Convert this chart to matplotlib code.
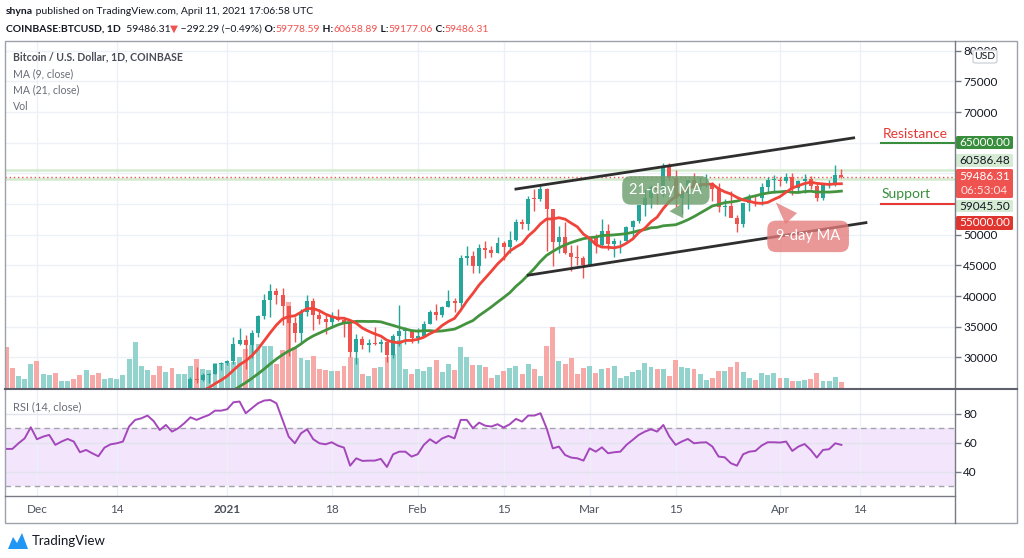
import numpy as np
import pandas as pd
import matplotlib
matplotlib.use('Agg')
import matplotlib.pyplot as plt
import matplotlib.dates as mdates
from matplotlib.lines import Line2D
from matplotlib.patches import Rectangle, FancyBboxPatch, Polygon

plt.rcParams['font.family'] = ['Lato', 'DejaVu Sans']

# ---- data: BTCUSD daily, Coinbase, 2020-11-26 .. 2021-04-11 ----
dates = pd.date_range('2020-11-26', '2021-04-11', freq='D')

opens = [19150, 17150, 17140, 17720, 18180, 19700, 18790, 19220, 19450, 18700,
         19150, 19350, 19190, 18320, 18550, 18260, 18060, 18800, 19140, 19250,
         19420, 21310, 22810, 23140, 23870, 23480, 22750, 23820, 23240, 23730,
         24670, 26440, 26280, 27040, 27360, 28840, 29000, 29380, 32130, 32780,
         31970, 33990, 36820, 39370, 40800, 40250, 38360, 35570, 33920, 37320,
         39190, 36830, 36180, 35790, 36630, 36070, 35550, 30830, 33000, 32070,
         32290, 32250, 32570, 30430, 33470, 34320, 34350, 33110, 33540, 35510,
         37470, 36930, 38140, 39270, 38900, 46200, 46480, 44920, 47910, 47500,
         47100, 48720, 47950, 49200, 52150, 51680, 55890, 55800, 57540, 54210,
         48820, 49710, 47090, 46340, 46190, 45140, 49630, 48380, 50540, 48560,
         48930, 48950, 51210, 52250, 54820, 56010, 57810, 57330, 61240, 59300,
         55910, 56800, 58870, 57860, 58350, 58400, 57520, 54530, 54740, 52770,
         51700, 55140, 55970, 55950, 57750, 58920, 58940, 58800, 59380, 57600,
         58760, 59060, 58020, 55950, 58080, 58090, 59779]
highs = [19460, 17460, 17900, 18350, 19860, 19920, 19310, 19570, 19520, 19180,
         19420, 19390, 19290, 18640, 18560, 18290, 18950, 19410, 19350, 19570,
         21560, 23770, 23280, 24170, 24300, 24100, 23830, 24100, 23790, 24790,
         26870, 28390, 27410, 27400, 28990, 29300, 29600, 33300, 34800, 33600,
         34450, 36940, 40400, 41950, 41380, 41380, 38360, 36600, 37850, 40100,
         39700, 37950, 36850, 37400, 37850, 36420, 35550, 33830, 33460, 32950,
         34880, 32930, 32570, 33850, 38530, 34880, 34350, 34720, 35900, 37660,
         38700, 38300, 40960, 39700, 46750, 48200, 47300, 48500, 48950, 48150,
         49700, 49000, 50600, 52620, 52500, 56350, 57500, 58350, 57600, 54200,
         51370, 52000, 48400, 48400, 46600, 49800, 50200, 52640, 51770, 49500,
         49200, 51450, 52400, 54900, 57400, 58100, 58050, 61780, 61700, 60600,
         56950, 58950, 60100, 59450, 59900, 58600, 58450, 55850, 57200, 53250,
         55100, 56700, 56550, 58400, 59400, 59800, 59490, 60050, 60000, 58960,
         59900, 59500, 58650, 58150, 58880, 61300, 60659]
lows = [16300, 16500, 16880, 17520, 18180, 18330, 18510, 18940, 18570, 18500,
        18860, 18900, 18200, 17650, 17910, 17580, 18020, 18730, 19000, 19050,
        19300, 21230, 22350, 22770, 23080, 22350, 22360, 22700, 22710, 23440,
        24510, 25820, 26100, 25890, 27340, 27860, 28700, 28950, 32050, 28130,
        29900, 33290, 36300, 36500, 38720, 35280, 30260, 32530, 32380, 36700,
        34400, 35360, 33850, 34720, 35900, 33400, 30070, 28850, 31390, 30900,
        31950, 30830, 29240, 29850, 31920, 32240, 32300, 32300, 33420, 35370,
        36160, 36600, 38140, 37350, 37990, 45000, 43800, 43700, 46250, 46300,
        47050, 45950, 47100, 48950, 50900, 50700, 53900, 55500, 47400, 44900,
        47000, 46900, 44150, 45000, 43000, 45000, 47050, 48100, 47500, 46300,
        47100, 48950, 49300, 51850, 53000, 54300, 55050, 56100, 59000, 54600,
        53300, 54200, 57100, 57200, 57800, 55500, 53700, 53000, 52970, 50400,
        51300, 53950, 54700, 54900, 57000, 56870, 57900, 58450, 56500, 57050,
        56800, 57400, 55500, 55700, 57650, 57900, 59177]
closes = [17150, 17140, 17720, 18180, 19700, 18790, 19220, 19450, 18700, 19150,
          19350, 19190, 18320, 18550, 18260, 18060, 18800, 19140, 19250, 19420,
          21310, 22810, 23140, 23870, 23480, 22750, 23820, 23240, 23730, 24670,
          26440, 26280, 27040, 27360, 28840, 29000, 29380, 32130, 32780, 31970,
          33990, 36820, 39370, 40800, 40250, 38360, 35570, 33920, 37320, 39190,
          36830, 36180, 35790, 36630, 36070, 35550, 30830, 33000, 32070, 32290,
          32250, 32570, 30430, 33470, 34320, 34350, 33110, 33540, 35510, 37470,
          36930, 38140, 39270, 38900, 46200, 46480, 44920, 47910, 47500, 47100,
          48720, 47950, 49200, 52150, 51680, 55890, 55800, 57540, 54210, 48820,
          49710, 47090, 46340, 46190, 45140, 49630, 48380, 50540, 48560, 48930,
          48950, 51210, 52250, 54820, 56010, 57810, 57330, 61240, 59300, 55910,
          56800, 58870, 57860, 58350, 58400, 57520, 54530, 54740, 52770, 51700,
          55140, 55970, 55950, 57750, 58920, 58940, 58800, 59380, 57600, 58760,
          59060, 58020, 55950, 58080, 58090, 59779, 59486.31]
volume_k = [41, 20, 11.7, 8.7, 24, 27, 14, 13, 14.7, 6.7,
            6.7, 8.7, 13, 18, 13, 15, 8.7, 9.7, 8.7, 13,
            28.7, 45.7, 22, 18, 13, 21.7, 16.3, 19.7, 14.3, 14.3,
            22, 28.7, 19, 18, 24.7, 24.7, 25.3, 26.3, 31, 39,
            43, 44, 42, 41.7, 24, 38, 86, 41, 30, 28,
            32, 19, 18, 17, 17, 21.7, 31.5, 30, 14.3, 12,
            19.7, 21, 31, 34, 47.7, 18.7, 14.3, 18.7, 17, 20.7,
            27.7, 16, 23.7, 17.7, 41, 31.3, 22.7, 22.7, 20.7, 10.3,
            13.3, 17, 19.7, 21.7, 14.3, 23.7, 18.7, 12.3, 42, 61,
            26.7, 23.7, 30.3, 14.3, 19.7, 21.7, 15.3, 18.7, 19.7, 21.7,
            10.3, 12.3, 16, 18, 24.7, 20.7, 18.7, 18.7, 12.3, 27.7,
            20.7, 19.7, 18.7, 14.3, 8.3, 10.3, 17, 17, 20.7, 25.7,
            16, 10.3, 8.3, 15.3, 13.3, 15.3, 10.3, 10.3, 7.3, 6.7,
            8.3, 9.3, 15.3, 7.3, 7.3, 11.3, 5.7]
rsi = [55.7, 55.7, 59.6, 63, 70.7, 62.4, 64.2, 65.4, 58.5, 60.8,
       62.6, 60.8, 53.4, 55, 52.7, 50.6, 56.6, 58.9, 59.6, 60.8,
       71.2, 75.8, 76.9, 78.8, 75, 68.8, 72.3, 67.7, 70, 73.5,
       77.6, 75.8, 77.6, 79.2, 82.2, 82.2, 83.2, 88, 88.5, 80.4,
       83.9, 87.3, 89.2, 89.6, 87.3, 75.8, 64.2, 59.6, 66.5, 69.3,
       62.4, 59.6, 58.9, 60.3, 58, 56.6, 44.1, 49.2, 47.4, 47.6,
       47.6, 48.8, 43.2, 52, 53.8, 53.8, 50.4, 52, 58.5, 62.4,
       59.6, 63, 64.7, 63, 75.8, 75.8, 70, 73.9, 71.8, 71.2,
       72.8, 70.5, 72.8, 76.5, 74.6, 78.8, 78.8, 80.4, 70, 56.1,
       57.3, 51.5, 49.7, 49.2, 47.6, 56.1, 53.8, 56.8, 52.7, 53.4,
       53.8, 58.5, 61.9, 65.4, 67.7, 69.3, 67.7, 72.3, 64.2, 58.5,
       60.8, 62.6, 59.6, 60.1, 60.3, 57.3, 50.4, 49.9, 45.8, 44.1,
       52, 53.8, 54.3, 58, 60.3, 60.3, 60.1, 60.8, 54.3, 57.3,
       59.1, 55, 49.7, 55, 55.5, 59.6, 58.5]

# drawn trend channel
channel_upper_dates = ['2021-02-17', '2021-04-13']
channel_upper_prices = [57450, 65800]
channel_lower_dates = ['2021-02-19', '2021-04-15']
channel_lower_prices = [43400, 51970]

resistance = 65000.00
support = 55000.00
day_high_line = 60586.48
day_low_line = 59045.50
last_close = 59486.31
countdown = '06:53:04'
o_val, h_val, l_val, c_val = 59778.59, 60658.89, 59177.06, 59486.31
change, change_pct = -292.29, -0.49

price_ticks = list(range(30000, 80001, 5000))
hidden_ticks = [55000, 60000, 65000]   # covered by the price tags
rsi_ticks = [40, 60, 80]
tick_dates = ['2020-12-01', '2020-12-14', '2021-01-01', '2021-01-18', '2021-02-01',
              '2021-02-15', '2021-03-01', '2021-03-15', '2021-04-01', '2021-04-14']
tick_labels = ['Dec', '14', '2021', '18', 'Feb', '15', 'Mar', '15', 'Apr', '14']

# ---- colours ----
UP, DOWN = '#26a69a', '#ef5350'
UP_VOL, DOWN_VOL = '#92d3cd', '#f7a9a8'
GRID = '#edf0f6'
TXT = '#131722'

W, H = 1024, 558
def fx(x):
    return x / W
def fy(y):
    return 1 - y / H

def dnum(s):
    return mdates.date2num(pd.Timestamp(s).to_pydatetime())

xd = mdates.date2num(dates.to_pydatetime())
o = np.array(opens, float)
c = np.array(closes, float)
up = c >= o
cc = np.where(up, UP, DOWN)
ma9 = pd.Series(closes).rolling(9).mean()
ma21 = pd.Series(closes).rolling(21).mean()

fig = plt.figure(figsize=(10.24, 5.58), dpi=100)
fig.patch.set_facecolor('white')

Lx, Rx = 5, 955
price_rect = [fx(Lx), fy(388), fx(Rx) - fx(Lx), (388 - 41) / H]
rsi_rect = [fx(Lx), fy(496), fx(Rx) - fx(Lx), (496 - 390) / H]

ax_v = fig.add_axes(price_rect)
ax_p = fig.add_axes(price_rect, sharex=ax_v)
ax_p.patch.set_visible(False)
ax_r = fig.add_axes(rsi_rect, sharex=ax_v)

xmin = xd[0] - 0.2
xmax = xd[0] + 154.5
ax_v.set_xlim(xmin, xmax)
ax_p.set_ylim(25000, 81600)
ax_v.set_ylim(0, 347)
ax_r.set_ylim(23.1, 96.5)

for a in (ax_v, ax_p, ax_r):
    for s in a.spines.values():
        s.set_visible(False)

xt = [dnum(d) for d in tick_dates]

# grid under volume
for t in xt:
    ax_v.axvline(t, color=GRID, lw=1, zorder=0)
    ax_r.axvline(t, color=GRID, lw=1, zorder=1)
ax_v.hlines(price_ticks, 0, 1, transform=ax_p.get_yaxis_transform(), color=GRID, lw=1, zorder=0)

# volume
ax_v.bar(xd, volume_k, width=0.8, color=np.where(up, UP_VOL, DOWN_VOL), zorder=2)
ax_v.tick_params(left=False, labelleft=False, bottom=False, labelbottom=False)

# price lines
ax_p.axhline(day_high_line, color='#d4eacf', lw=1.8, zorder=1)
ax_p.axhline(day_low_line, color='#d4eacf', lw=1.8, zorder=1)
ax_p.axhline(last_close, color=DOWN, lw=1, ls=(0, (1, 2)), zorder=2)

# candles
ax_p.vlines(xd, lows, highs, colors=cc, lw=1, zorder=3)
body = np.maximum(np.abs(c - o), 120)
ax_p.bar(xd, body, bottom=np.minimum(o, c), width=0.65, color=cc, zorder=4)

# moving averages
ax_p.plot(xd, ma21, color='#43933f', lw=2, zorder=5)
ax_p.plot(xd, ma9, color='#f0443a', lw=2, zorder=5)

# channel
ax_p.plot([dnum(d) for d in channel_upper_dates], channel_upper_prices, color='#2e2e2e', lw=2, zorder=6)
ax_p.plot([dnum(d) for d in channel_lower_dates], channel_lower_prices, color='#2e2e2e', lw=2, zorder=6)

# support / resistance marks
sr_start = dnum('2021-04-17 12:00')
ax_p.plot([sr_start, xmax], [resistance] * 2, color='#388e3c', lw=1.5, zorder=6, clip_on=False)
ax_p.plot([sr_start, xmax], [support] * 2, color='#e53935', lw=1.5, zorder=6, clip_on=False)
fig.text(fx(883), fy(134), 'Resistance', color='#e53935', fontsize=10, va='center', ha='left')
fig.text(fx(882), fy(194), 'Support', color='#388e3c', fontsize=10, va='center', ha='left')

# MA callouts
ax_p.annotate('21-day MA', xy=(dnum('2021-03-16 12:00'), 52300), xytext=(dnum('2021-03-13 10:00'), 57235),
              ha='center', va='center', color='white', fontsize=10.5, zorder=8,
              bbox=dict(boxstyle='round,pad=0.5,rounding_size=0.6', fc='#6e9f6e', ec='none', alpha=0.82),
              arrowprops=dict(arrowstyle='wedge,tail_width=1.1', fc='#6e9f6e', ec='none', alpha=0.82))
ax_p.annotate('9-day MA', xy=(dnum('2021-03-31'), 55600), xytext=(dnum('2021-04-05 14:00'), 49730),
              ha='center', va='center', color='white', fontsize=10.5, zorder=8,
              bbox=dict(boxstyle='round,pad=0.6,rounding_size=0.6', fc='#e57a7a', ec='none', alpha=0.78),
              arrowprops=dict(arrowstyle='wedge,tail_width=1.1', fc='#e57a7a', ec='none', alpha=0.78))

# price axis
ax_p.yaxis.tick_right()
ax_p.set_yticks(price_ticks)
ax_p.set_yticklabels(['' if v in hidden_ticks else str(v) for v in price_ticks])
ax_p.tick_params(axis='y', length=4, width=1, color='#787b86', labelsize=8.5, labelcolor=TXT, pad=2)
ax_p.tick_params(axis='x', bottom=False, labelbottom=False)

# RSI pane
ax_r.axhspan(30, 70, color='#f3e6fc', zorder=0, lw=0)
for v in rsi_ticks:
    ax_r.axhline(v, color='#e2e3ee', lw=1, zorder=1)
ax_r.axhline(70, color='#a3a3ab', lw=1, ls=(0, (4, 3)), zorder=2)
ax_r.axhline(30, color='#a3a3ab', lw=1, ls=(0, (4, 3)), zorder=2)
ax_r.plot(xd, rsi, color='#a347ba', lw=1.4, zorder=3)
ax_r.yaxis.tick_right()
ax_r.set_yticks(rsi_ticks)
ax_r.set_yticklabels([str(v) for v in rsi_ticks])
ax_r.tick_params(axis='y', length=4, width=1, color='#787b86', labelsize=8.5, labelcolor=TXT, pad=2)
ax_r.set_xticks(xt)
ax_r.set_xticklabels(tick_labels)
ax_r.tick_params(axis='x', length=0, pad=6, labelsize=8.5, labelcolor='#4c525e')
ax_r.get_xticklabels()[2].set_fontweight('bold')

# frame and separators
fig.add_artist(Rectangle((fx(5), fy(523)), fx(1017) - fx(5), (523 - 41) / H, fill=False,
                         ec='#9ea1aa', lw=1, transform=fig.transFigure))
fig.add_artist(Line2D([fx(955)] * 2, [fy(41), fy(523)], color='#787b86', lw=1))
fig.add_artist(Line2D([fx(5), fx(1017)], [fy(388.5)] * 2, color='#5d606b', lw=1.5))
fig.add_artist(Line2D([fx(5), fx(955)], [fy(496)] * 2, color='#787b86', lw=1))

# right-side price tags
def tag(y0, y1, fc, lines):
    fig.add_artist(FancyBboxPatch((fx(956), fy(y1)), fx(1013) - fx(956), (y1 - y0) / H,
                                  boxstyle='round,pad=0,rounding_size=0.002', fc=fc, ec='none',
                                  transform=fig.transFigure))
    for ty, s, col in lines:
        fig.text(fx(984.5), fy(ty), s, color=col, fontsize=8.5, ha='center', va='center')

tag(136, 149, '#388e3c', [(142.5, f'{resistance:.2f}', 'white')])
tag(154, 167, '#d6ebd4', [(160.5, f'{day_high_line:.2f}', TXT)])
tag(169, 198, '#ef5350', [(176.5, f'{last_close:.2f}', 'white'), (190.5, countdown, '#fde2e1')])
tag(200, 212, '#d6ebd4', [(206, f'{day_low_line:.2f}', TXT)])
tag(216, 230, '#e0342f', [(223, f'{support:.2f}', 'white')])

fig.add_artist(FancyBboxPatch((fx(973), fy(63)), fx(997) - fx(973), 13 / H,
                              boxstyle='round,pad=0,rounding_size=0.003', fc='white', ec='#d1d4dc',
                              lw=1, transform=fig.transFigure))
fig.text(fx(985), fy(56.5), 'USD', color=TXT, fontsize=7.5, ha='center', va='center')

# legend texts
fig.text(fx(13), fy(57), 'Bitcoin / U.S. Dollar, 1D, COINBASE', color='#4a4d57', fontsize=7.6,
         fontweight='bold', va='center')
for ty, s in [(74, 'MA (9, close)'), (90, 'MA (21, close)'), (106, 'Vol')]:
    fig.text(fx(13), fy(ty), s, color='#6a6d78', fontsize=7.6, va='center')
fig.text(fx(13), fy(407), 'RSI (14, close)', color='#6a6d78', fontsize=8, va='center')

# header
renderer = fig.canvas.get_renderer()
def chain(x, y, parts):
    for s, col, wt in parts:
        t = fig.text(fx(x), fy(y), s, color=col, fontsize=7.5, fontweight=wt, va='center', ha='left')
        x = t.get_window_extent(renderer=renderer).x1
    return x

chain(6, 12, [('shyna', TXT, 'bold'),
              (' published on TradingView.com, April 11, 2021 17:06:58 UTC', TXT, 'normal')])
chain(6, 29, [('COINBASE:BTCUSD, 1D', TXT, 'bold'),
              (f'  {c_val:.2f}', TXT, 'normal'),
              ('\u25bc', DOWN, 'normal'),
              (f' \u2212{abs(change):.2f} (\u2212{abs(change_pct):.2f}%)', TXT, 'normal'),
              (' O:', TXT, 'bold'), (f'{o_val:.2f}', DOWN, 'normal'),
              (' H:', TXT, 'bold'), (f'{h_val:.2f}', DOWN, 'normal'),
              (' L:', TXT, 'bold'), (f'{l_val:.2f}', DOWN, 'normal'),
              (' C:', TXT, 'bold'), (f'{c_val:.2f}', DOWN, 'normal')])

# TradingView logo
fig.add_artist(Polygon([(fx(8), fy(549)), (fx(13), fy(537)), (fx(17), fy(543)), (fx(22), fy(533)),
                        (fx(28), fy(549))], closed=True, fc='#2196f3', ec='none', transform=fig.transFigure))
fig.text(fx(32), fy(541), 'TradingView', color=TXT, fontsize=9.5, va='center')

fig.savefig('out.png', dpi=100)
